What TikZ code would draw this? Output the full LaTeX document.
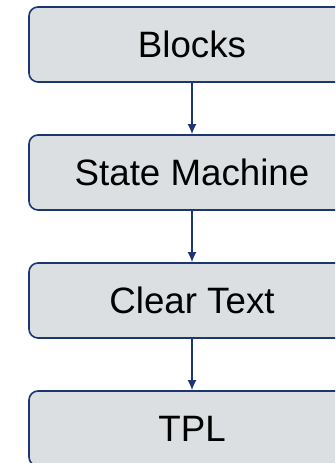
\documentclass[tikz,border=0pt]{standalone}
\usepackage{fontspec}
\setmainfont{Liberation Sans}
\usetikzlibrary{arrows.meta}
\definecolor{navy}{HTML}{1B3673}
\definecolor{boxfill}{HTML}{DCDFE1}
\newcommand{\lowered}[1]{\raisebox{-2.5pt}{#1}}
\tikzset{
  stage/.style={draw=navy, line width=1.6pt, fill=boxfill, rounded corners=9pt,
    minimum width=326pt, minimum height=75pt, inner sep=0pt,
    font=\fontsize{36.7}{40}\selectfont, text=black},
  flow/.style={draw=navy, line width=1.6pt, -{Latex[length=10pt,width=9pt]}}
}
\begin{document}
\begin{tikzpicture}[x=1pt,y=1pt]
\useasboundingbox (0,0) rectangle (335,463);
\clip (0,0) rectangle (335,463);
\node[stage] (blocks) at (192,418.5) {\lowered{Blocks}};
\node[stage] (sm) at (192,290.5) {\lowered{State Machine}};
\node[stage] (ct) at (192,162.5) {\lowered{Clear Text}};
\node[stage] (tpl) at (192,34.5) {\lowered{TPL}};
\draw[flow] (blocks) -- (sm);
\draw[flow] (sm) -- (ct);
\draw[flow] (ct) -- (tpl);
\end{tikzpicture}
\end{document}
